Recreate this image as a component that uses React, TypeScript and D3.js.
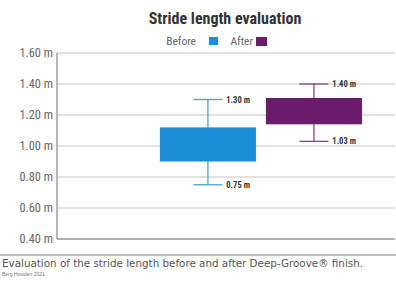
import React from "react";
import * as d3 from "d3";

const categories = ["Before", "After"];
const boxLow = [0.9, 1.14];
const boxHigh = [1.12, 1.31];
const whiskerLow = [0.75, 1.03];
const whiskerHigh = [1.3, 1.4];
const lowLabels = ["0.75 m", "1.03 m"];
const highLabels = ["1.30 m", "1.40 m"];
const yTicks = [0.4, 0.6, 0.8, 1.0, 1.2, 1.4, 1.6];
const colors = ["#1b8ed6", "#6b1d6c"];

const W = 396;
const H = 286;
const FONT = "'Liberation Sans Narrow', 'Roboto Condensed', 'Liberation Sans', Arial, sans-serif";

export default function App() {
  const y = d3.scaleLinear().domain([0.4, 1.6]).range([239, 53]);
  const x = d3
    .scaleBand<string>()
    .domain(categories)
    .range([57, 395])
    .paddingInner(0.094)
    .paddingOuter(0.641)
    .align(0.757);
  const bw = x.bandwidth();
  const cap = bw * 0.3;

  return (
    <svg
      width={W}
      height={H}
      style={{ position: "absolute", left: 0, top: 0, background: "#fff" }}
      fontFamily={FONT}
    >
      <rect width={W} height={H} fill="#fff" />
      <text x={225} y={24} textAnchor="middle" fontSize={16} fontWeight="bold" fill="#333">
        Stride length evaluation
      </text>
      {/* legend */}
      <text x={196} y={45} textAnchor="end" fontSize={11.5} fill="#666">Before</text>
      <rect x={209} y={37} width={9} height={8} fill={colors[0]} />
      <text x={253} y={45} textAnchor="end" fontSize={11.5} fill="#666">After</text>
      <rect x={256} y={37} width={11} height={9} fill={colors[1]} />

      {/* grid */}
      {yTicks.map((t) => (
        <g key={t}>
          {t > 0.4 && (
            <line x1={57} x2={395} y1={y(t)} y2={y(t)} stroke="#d8d8d8" strokeWidth={1.3} />
          )}
          <text
            x={53}
            y={y(t) + 4}
            textAnchor="end"
            fontSize={12.3}
            fill="#666"
          >
            {t.toFixed(2) + " m"}
          </text>
        </g>
      ))}
      <line x1={57} x2={57} y1={53} y2={239} stroke="#888" strokeWidth={1.2} />
      <line x1={57} x2={395} y1={239} y2={239} stroke="#999" strokeWidth={1.5} />

      {categories.map((c, i) => {
        const x0 = x(c)!;
        const cx = x0 + bw / 2;
        return (
          <g key={c}>
            <line x1={cx} x2={cx} y1={y(whiskerHigh[i])} y2={y(whiskerLow[i])} stroke={colors[i]} strokeWidth={1.3} opacity={0.8} />
            <line x1={cx - cap / 2} x2={cx + cap / 2} y1={y(whiskerHigh[i])} y2={y(whiskerHigh[i])} stroke={colors[i]} strokeWidth={1.3} opacity={0.8} />
            <line x1={cx - cap / 2} x2={cx + cap / 2} y1={y(whiskerLow[i])} y2={y(whiskerLow[i])} stroke={colors[i]} strokeWidth={1.3} opacity={0.8} />
            <rect x={x0} y={y(boxHigh[i])} width={bw} height={y(boxLow[i]) - y(boxHigh[i])} fill={colors[i]} />
            <text x={cx + cap / 2 + 4} y={y(whiskerHigh[i]) + 3} fontSize={8.5} fontWeight="bold" fill="#333">
              {highLabels[i]}
            </text>
            <text x={cx + cap / 2 + 4} y={y(whiskerLow[i]) + 3} fontSize={8.5} fontWeight="bold" fill="#333">
              {lowLabels[i]}
            </text>
          </g>
        );
      })}

      <line x1={0} x2={W} y1={255} y2={255} stroke="#aaa" strokeWidth={1.5} />
      <text
        x={2}
        y={267}
        fontSize={10}
        fill="#555"
        fontFamily="'DejaVu Sans', 'Liberation Sans', Arial, sans-serif"
        textLength={361}
        lengthAdjust="spacingAndGlyphs"
      >
        Evaluation of the stride length before and after Deep-Groove® finish.
      </text>
      <text x={2} y={276} fontSize={5} fill="#777" fontFamily="'Liberation Sans', Arial, sans-serif">
        Berg Hosiden 2021
      </text>
    </svg>
  );
}
